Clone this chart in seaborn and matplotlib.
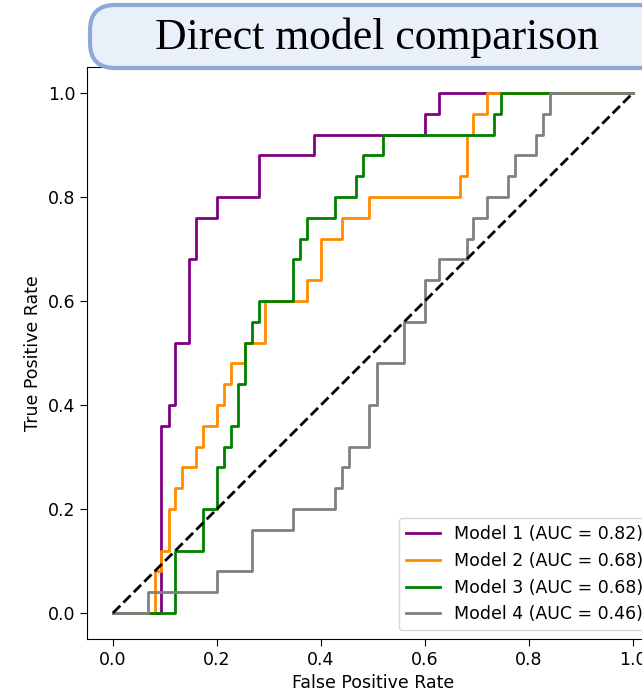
import numpy as np
import pandas as pd
import matplotlib
matplotlib.use('Agg')
import matplotlib.pyplot as plt
from matplotlib.patches import FancyBboxPatch
import seaborn as sns

# ─── data: ROC corner points (fpr, tpr), drawn as steps-post ───────────────
model_names = ['Model 1', 'Model 2', 'Model 3', 'Model 4']
model_auc = [0.82, 0.68, 0.68, 0.46]
model_colors = ['purple', 'darkorange', 'green', 'gray']

m1_fpr = [0.0, 0.093, 0.107, 0.12, 0.147, 0.16, 0.2, 0.28, 0.387, 0.6, 0.627, 1.0]
m1_tpr = [0.0, 0.36, 0.40, 0.52, 0.68, 0.76, 0.80, 0.88, 0.92, 0.96, 1.0, 1.0]

m2_fpr = [0.0, 0.08, 0.093, 0.107, 0.12, 0.133, 0.16, 0.173, 0.2, 0.213, 0.227,
          0.253, 0.293, 0.373, 0.4, 0.44, 0.493, 0.667, 0.68, 0.693, 0.72, 1.0]
m2_tpr = [0.0, 0.08, 0.12, 0.20, 0.24, 0.28, 0.32, 0.36, 0.40, 0.44, 0.48,
          0.52, 0.60, 0.64, 0.72, 0.76, 0.80, 0.84, 0.92, 0.96, 1.0, 1.0]

m3_fpr = [0.0, 0.12, 0.173, 0.2, 0.213, 0.227, 0.24, 0.253, 0.267, 0.28, 0.347,
          0.36, 0.373, 0.427, 0.467, 0.48, 0.52, 0.733, 0.747, 1.0]
m3_tpr = [0.0, 0.12, 0.20, 0.28, 0.32, 0.36, 0.44, 0.52, 0.56, 0.60, 0.68,
          0.72, 0.76, 0.80, 0.84, 0.88, 0.92, 0.96, 1.0, 1.0]

m4_fpr = [0.0, 0.067, 0.2, 0.267, 0.347, 0.427, 0.44, 0.453, 0.493, 0.507, 0.56,
          0.6, 0.627, 0.68, 0.693, 0.72, 0.76, 0.773, 0.813, 0.827, 0.84, 1.0]
m4_tpr = [0.0, 0.04, 0.08, 0.16, 0.20, 0.24, 0.28, 0.32, 0.40, 0.48, 0.56,
          0.64, 0.68, 0.72, 0.76, 0.80, 0.84, 0.88, 0.92, 0.96, 1.0, 1.0]

chance = [0.0, 1.0]
ticks = [0.0, 0.2, 0.4, 0.6, 0.8, 1.0]

curves = [(m1_fpr, m1_tpr), (m2_fpr, m2_tpr), (m3_fpr, m3_tpr), (m4_fpr, m4_tpr)]

# ─── plot ───────────────────────────────────────────────────────────────────
plt.rcParams['font.family'] = ['DejaVu Sans']
fig = plt.figure(figsize=(6.42, 6.94), dpi=100)
ax = fig.add_axes([0.1355, 0.0793, 0.891, 0.8242])

for (fpr, tpr), name, auc, col in zip(curves, model_names, model_auc, model_colors):
    df = pd.DataFrame({'fpr': fpr, 'tpr': tpr})
    sns.lineplot(data=df, x='fpr', y='tpr', color=col, lw=2, drawstyle='steps-post',
                 estimator=None, sort=False, ax=ax,
                 label=f'{name} (AUC = {auc:.2f})')

ax.plot(chance, chance, 'k--', lw=2)

ax.set_xlim(-0.05, 1.05)
ax.set_ylim(-0.05, 1.05)
ax.set_xticks(ticks)
ax.set_yticks(ticks)
ax.tick_params(labelsize=12.5, length=5)
ax.set_xlabel('False Positive Rate', fontsize=12.5)
ax.set_ylabel('True Positive Rate', fontsize=12.5)
ax.legend(loc='lower right', fontsize=12.5)

# title in a rounded box
box = FancyBboxPatch((0.90, 6.26), 5.74, 0.63, boxstyle='round,pad=0,rounding_size=0.25',
                     transform=fig.dpi_scale_trans, facecolor='#eaf0fa',
                     edgecolor='#8ea8d8', lw=3, zorder=0)
fig.patches.append(box)
fig.text(3.77 / 6.42, 6.56 / 6.94, 'Direct model comparison', ha='center', va='center',
         fontsize=31.5, family='Liberation Serif', zorder=5)

fig.savefig('out.png', dpi=100)
